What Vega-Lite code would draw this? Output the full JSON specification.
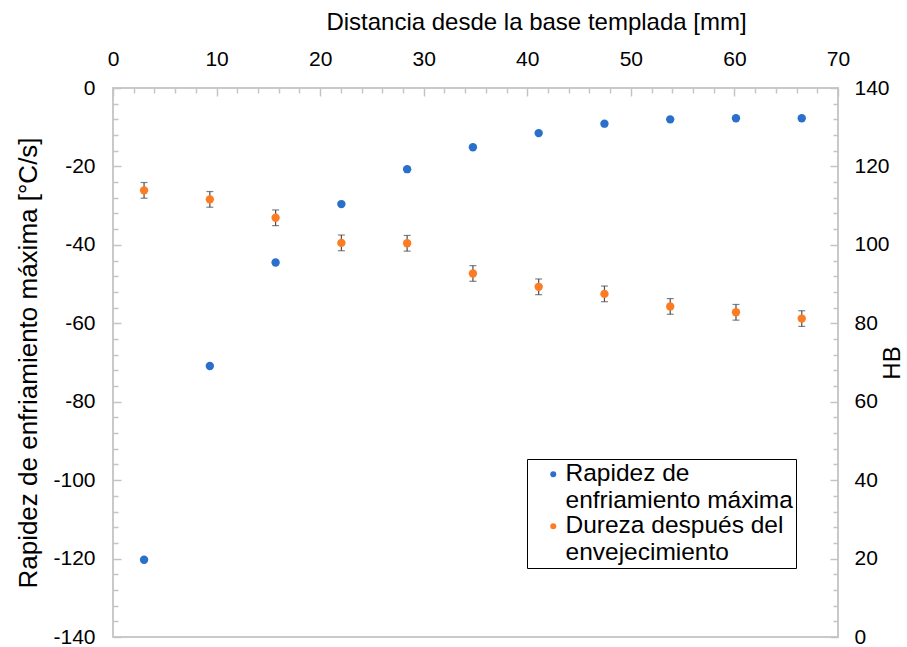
{
  "$schema": "https://vega.github.io/schema/vega-lite/v6.json",
  "width": 725,
  "height": 549,
  "autosize": {"type": "none"},
  "padding": {"left": 113, "top": 88, "right": 69, "bottom": 10},
  "config": {
    "font": "Liberation Sans",
    "view": {"stroke": "#c9c9c9", "strokeWidth": 2},
    "axis": {
      "grid": false,
      "domain": false,
      "tickColor": "#c4c4c4",
      "tickWidth": 1.5,
      "labelFont": "Liberation Sans",
      "labelFontSize": 21,
      "labelColor": "#000000",
      "labelFlush": false,
      "titleFont": "Liberation Sans",
      "titleFontSize": 24,
      "titleFontWeight": "normal",
      "titleColor": "#000000",
      "labelOverlap": false
    }
  },
  "data": {
    "values": [
      {"d": 3.0, "rate": -120.3, "hb": 113.9, "err": 2.0},
      {"d": 9.35, "rate": -70.9, "hb": 111.6, "err": 2.0},
      {"d": 15.7, "rate": -44.5, "hb": 106.9, "err": 2.0},
      {"d": 22.05, "rate": -29.6, "hb": 100.5, "err": 2.0},
      {"d": 28.4, "rate": -20.7, "hb": 100.4, "err": 2.0},
      {"d": 34.75, "rate": -15.1, "hb": 92.7, "err": 2.0},
      {"d": 41.1, "rate": -11.5, "hb": 89.3, "err": 2.0},
      {"d": 47.45, "rate": -9.1, "hb": 87.5, "err": 2.0},
      {"d": 53.8, "rate": -8.0, "hb": 84.3, "err": 2.0},
      {"d": 60.15, "rate": -7.7, "hb": 82.8, "err": 2.0},
      {"d": 66.5, "rate": -7.7, "hb": 81.2, "err": 2.0}
    ]
  },
  "encoding": {
    "x": {
      "field": "d",
      "type": "quantitative",
      "scale": {"domain": [0, 70], "nice": false, "zero": false},
      "axis": {
        "orient": "top",
        "title": "Distancia desde la base templada [mm]",
        "titleX": 423,
        "titleAlign": "center",
        "values": [0,2,4,6,8,10,12,14,16,18,20,22,24,26,28,30,32,34,36,38,40,42,44,46,48,50,52,54,56,58,60,62,64,66,68,70],
        "labelExpr": "datum.value % 10 === 0 ? datum.label : ''",
        "tickSize": {"condition": {"test": "datum.value % 10 === 0", "value": -8}, "value": -5},
        "labelPadding": 27,
        "titlePadding": 11
      }
    }
  },
  "layer": [
    {
      "mark": {"type": "point", "filled": true, "opacity": 1, "size": 70},
      "encoding": {
        "y": {
          "field": "rate",
          "type": "quantitative",
          "scale": {"domain": [-140, 0], "nice": false, "zero": false},
          "axis": {
            "orient": "left",
            "title": "Rapidez de enfriamiento máxima [°C/s]",
            "titleFontSize": 26,
            "values": [-140,-136,-132,-128,-124,-120,-116,-112,-108,-104,-100,-96,-92,-88,-84,-80,-76,-72,-68,-64,-60,-56,-52,-48,-44,-40,-36,-32,-28,-24,-20,-16,-12,-8,-4,0],
            "labelExpr": "datum.value % 20 === 0 ? replace(datum.label, '−', '-') : ''",
            "tickSize": {"condition": {"test": "datum.value % 20 === 0", "value": -8}, "value": -5},
            "labelPadding": 26,
            "titlePadding": 11
          }
        },
        "color": {
          "datum": "Rapidez de enfriamiento máxima",
          "type": "nominal",
          "scale": {
            "domain": ["Rapidez de enfriamiento máxima", "Dureza después del envejecimiento"],
            "range": ["#2a6fca", "#fd7c23"]
          },
          "legend": {
            "orient": "none",
            "legendX": 414,
            "legendY": 371,
            "title": null,
            "strokeColor": "#000000",
            "fillColor": "#ffffff",
            "padding": 3,
            "symbolOffset": 11,
            "symbolType": "circle",
            "symbolSize": 36,
            "labelFontSize": 24.5,
            "labelOffset": 0,
            "labelLimit": 400,
            "rowPadding": 0,
            "labelExpr": "datum.label === 'Rapidez de enfriamiento máxima' ? ['Rapidez de', 'enfriamiento máxima'] : ['Dureza después del', 'envejecimiento']"
          }
        }
      }
    },
    {
      "layer": [
        {
          "mark": {"type": "errorbar", "ticks": {"size": 7}, "color": "#4d4d4d", "thickness": 1.2},
          "encoding": {
            "y": {
              "field": "hb",
              "type": "quantitative",
              "scale": {"domain": [0, 140], "nice": false},
              "axis": {
                "orient": "right",
                "title": "HB",
                "titleAngle": 270,
                "values": [0,4,8,12,16,20,24,28,32,36,40,44,48,52,56,60,64,68,72,76,80,84,88,92,96,100,104,108,112,116,120,124,128,132,136,140],
                "labelExpr": "datum.value % 20 === 0 ? datum.label : ''",
                "tickSize": {"condition": {"test": "datum.value % 20 === 0", "value": -8}, "value": -5},
                "labelPadding": 24,
                "titlePadding": 15
              }
            },
            "yError": {"field": "err"}
          }
        },
        {
          "mark": {"type": "point", "filled": true, "opacity": 1, "size": 70},
          "encoding": {
            "y": {
              "field": "hb",
              "type": "quantitative",
              "scale": {"domain": [0, 140], "nice": false},
              "axis": {
                "orient": "right",
                "title": "HB",
                "titleAngle": 270,
                "values": [0,4,8,12,16,20,24,28,32,36,40,44,48,52,56,60,64,68,72,76,80,84,88,92,96,100,104,108,112,116,120,124,128,132,136,140],
                "labelExpr": "datum.value % 20 === 0 ? datum.label : ''",
                "tickSize": {"condition": {"test": "datum.value % 20 === 0", "value": -8}, "value": -5},
                "labelPadding": 24,
                "titlePadding": 15
              }
            },
            "color": {"datum": "Dureza después del envejecimiento", "type": "nominal"}
          }
        }
      ]
    }
  ],
  "resolve": {"scale": {"y": "independent"}}
}
